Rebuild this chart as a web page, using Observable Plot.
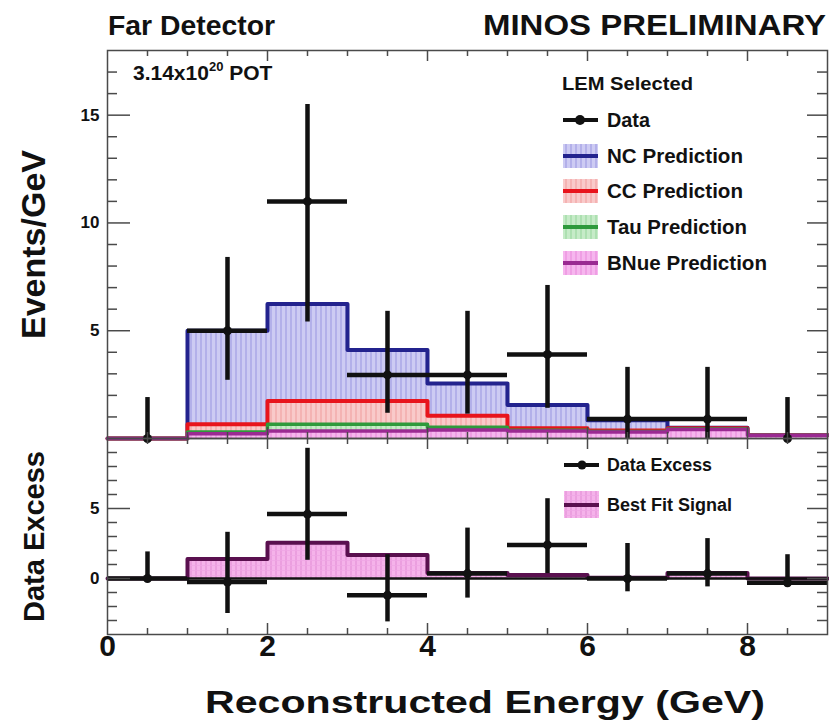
<!DOCTYPE html>
<html>
<head>
<meta charset="utf-8">
<script src="https://cdn.jsdelivr.net/npm/d3@7"></script>
<script src="https://cdn.jsdelivr.net/npm/@observablehq/plot@0.6"></script>
<style>
  body { margin: 0; background: #fff; }
  #chart { width: 829px; }
  #chart svg { display: block; overflow: visible; }
</style>
</head>
<body>
<div id="chart"></div>
<script>
// Reconstructed-energy binning (GeV), 1 GeV bins from 0 to 9
const binEdges = [0, 1, 2, 3, 4, 5, 6, 7, 8, 9];
const binCenters = [0.5, 1.5, 2.5, 3.5, 4.5, 5.5, 6.5, 7.5, 8.5];

// Predicted background components (events/GeV), stacked bottom to top
const bnuePred = [0, 0.22, 0.35, 0.35, 0.40, 0.35, 0.30, 0.42, 0.15];
const tauPred  = [0, 0.08, 0.31, 0.31, 0.12, 0.03, 0.02, 0.02, 0.00];
const ccPred   = [0, 0.36, 1.08, 1.08, 0.53, 0.10, 0.05, 0.03, 0.00];
const ncPred   = [0, 4.34, 4.50, 2.36, 1.50, 1.07, 0.48, 0.03, 0.00];

// Far detector data (events/GeV) with error-bar limits
const dataVal = [0, 5.0, 11.0, 2.95, 2.95, 3.9, 0.9, 0.9, 0];
const dataLo  = [0, 2.7, 5.4, 1.17, 1.13, 1.4, 0, 0, 0];
const dataHi  = [1.9, 8.4, 15.5, 5.9, 5.9, 7.1, 3.3, 3.3, 1.9];

// Data excess over background and best-fit signal
const excessVal = [0, -0.25, 4.6, -1.2, 0.35, 2.4, 0, 0.35, -0.3];
const excessLo  = [0, -2.5, 1.3, -3.1, -1.4, 0.35, -0.95, -0.6, -0.6];
const excessHi  = [1.9, 3.3, 9.3, 1.7, 3.6, 5.7, 2.5, 2.85, 1.7];
const signalFit = [0, 1.4, 2.55, 1.67, 0.4, 0.25, 0.05, 0.4, 0];

// Axis ticks
const xTickLabels = [0, 2, 4, 6, 8];
const upperYTickLabels = [5, 10, 15];
const lowerYTickLabels = [0, 5];

const W = 829;
const mL = 107, mR = 2;
const frameW = W - mL - mR;
const font = "'Liberation Sans', Arial, Helvetica, sans-serif";
const ink = "#111";
const frameInk = "#4a4a4a";

// cumulative stack tops
const cumBNue = bnuePred.slice();
const cumTau = cumBNue.map((v, i) => v + tauPred[i]);
const cumCC = cumTau.map((v, i) => v + ccPred[i]);
const cumNC = cumCC.map((v, i) => v + ncPred[i]);

const stepPoints = vals => binEdges.map((e, i) => ({x: e, y: vals[Math.min(i, vals.length - 1)]}));

const layers = [
  {cum: cumNC, fill: "url(#ncFill)", stroke: "#23238e", sw: 4},
  {cum: cumCC, fill: "url(#ccFill)", stroke: "#e8141c", sw: 4},
  {cum: cumTau, fill: "url(#tauFill)", stroke: "#2e9a3c", sw: 3.5},
  {cum: cumBNue, fill: "url(#bnueFill)", stroke: "#9a2a92", sw: 3.5}
];

const dataRows = binCenters.map((x, i) => ({x, x1: binEdges[i], x2: binEdges[i + 1], y: dataVal[i], lo: dataLo[i], hi: dataHi[i]}));
const excessRows = binCenters.map((x, i) => ({x, x1: binEdges[i], x2: binEdges[i + 1], y: excessVal[i], lo: excessLo[i], hi: excessHi[i]}));

// inward-pointing frame ticks on all four sides
function frameTicks(yMin, yMax, yMajor, frameH) {
  const xs = d3.range(0.5, 9, 0.5);
  const xMaj = xs.filter(v => v % 2 === 0);
  const xMin = xs.filter(v => v % 2 !== 0);
  const ys = d3.range(Math.ceil(yMin), Math.floor(yMax) + 1).filter(v => v > yMin && v < yMax);
  const yMaj = ys.filter(v => yMajor.includes(v));
  const yMin_ = ys.filter(v => !yMajor.includes(v));
  const s = {stroke: frameInk, strokeWidth: 1.5};
  return [
    Plot.tickY(yMin_, {y: d => d, insetRight: frameW - 10, ...s}),
    Plot.tickY(yMaj, {y: d => d, insetRight: frameW - 23, ...s}),
    Plot.tickY(yMin_, {y: d => d, insetLeft: frameW - 10, ...s}),
    Plot.tickY(yMaj, {y: d => d, insetLeft: frameW - 20, ...s}),
    Plot.tickX(xMin, {x: d => d, insetTop: frameH - 6, ...s}),
    Plot.tickX(xMaj, {x: d => d, insetTop: frameH - 11, ...s}),
    Plot.tickX(xMin, {x: d => d, insetBottom: frameH - 6, ...s}),
    Plot.tickX(xMaj, {x: d => d, insetBottom: frameH - 11, ...s})
  ];
}

const upperH = 438, upperTop = 50;
const upper = Plot.plot({
  width: W, height: upperH,
  marginTop: upperTop, marginBottom: 0, marginLeft: mL, marginRight: mR,
  x: {domain: [0, 9], axis: null},
  y: {domain: [0, 18], axis: null},
  style: {fontFamily: font, fontWeight: "bold", color: ink, background: "transparent"},
  marks: [
    ...layers.flatMap(l => [
      Plot.areaY(stepPoints(l.cum), {x: "x", y: "y", curve: "step-after", fill: l.fill}),
      Plot.line(stepPoints(l.cum), {x: "x", y: "y", curve: "step-after", stroke: l.stroke, strokeWidth: l.sw})
    ]),
    Plot.ruleX(dataRows, {x: "x", y1: "lo", y2: "hi", stroke: ink, strokeWidth: 4.5}),
    Plot.ruleY(dataRows.filter(d => d.y > 0), {y: "y", x1: "x1", x2: "x2", stroke: ink, strokeWidth: 4.5}),
    Plot.dot(dataRows, {x: "x", y: "y", r: 4.5, fill: ink}),
    Plot.frame({stroke: frameInk, strokeWidth: 1.5}),
    ...frameTicks(0, 18, upperYTickLabels, upperH - upperTop),
    Plot.text(upperYTickLabels, {y: d => d, text: d => String(d), frameAnchor: "left", textAnchor: "end", dx: -8, fontSize: 17, fill: ink}),
    Plot.text(["Events/GeV"], {frameAnchor: "left", textAnchor: "middle", dx: -73, rotate: -90, fontSize: 34, fill: ink})
  ]
});

const lowerH = 285, lowerBottom = 89;
const lower = Plot.plot({
  width: W, height: lowerH,
  marginTop: 0, marginBottom: lowerBottom, marginLeft: mL, marginRight: mR,
  x: {domain: [0, 9], axis: null},
  y: {domain: [-4, 10], axis: null},
  style: {fontFamily: font, fontWeight: "bold", color: ink, background: "transparent"},
  marks: [
    Plot.areaY(stepPoints(signalFit), {x: "x", y: "y", curve: "step-after", fill: "url(#sigFill)"}),
    Plot.line(stepPoints(signalFit), {x: "x", y: "y", curve: "step-after", stroke: "#5a104f", strokeWidth: 4}),
    Plot.ruleY([0], {stroke: ink, strokeWidth: 2.5}),
    Plot.ruleX(excessRows, {x: "x", y1: "lo", y2: "hi", stroke: ink, strokeWidth: 4.5}),
    Plot.ruleY(excessRows, {y: "y", x1: "x1", x2: "x2", stroke: ink, strokeWidth: 4.5}),
    Plot.dot(excessRows, {x: "x", y: "y", r: 4.5, fill: ink}),
    Plot.frame({stroke: frameInk, strokeWidth: 1.5}),
    ...frameTicks(-4, 10, lowerYTickLabels, lowerH - lowerBottom),
    Plot.text(lowerYTickLabels, {y: d => d, text: d => String(d), frameAnchor: "left", textAnchor: "end", dx: -8, fontSize: 17, fill: ink}),
    Plot.text(xTickLabels, {x: d => d, text: d => String(d), frameAnchor: "bottom", dy: 21, fontSize: 30, fill: ink}),
    Plot.text(["Data Excess"], {frameAnchor: "left", textAnchor: "middle", dx: -73, rotate: -90, fontSize: 29, fill: ink})
  ]
});

// hatched fill patterns for the stacked histograms
const patterns = `
  <pattern id="ncFill" width="5" height="8" patternUnits="userSpaceOnUse">
    <rect width="5" height="8" fill="#cdcbf3"/>
    <line x1="1" y1="0" x2="1" y2="8" stroke="#a8a5e6" stroke-width="1.4"/>
  </pattern>
  <pattern id="ccFill" width="5" height="8" patternUnits="userSpaceOnUse">
    <rect width="5" height="8" fill="#f9caca"/>
    <line x1="1" y1="0" x2="1" y2="8" stroke="#f3aaaa" stroke-width="1.4"/>
  </pattern>
  <pattern id="tauFill" width="5" height="8" patternUnits="userSpaceOnUse">
    <rect width="5" height="8" fill="#c6ebc8"/>
    <line x1="1" y1="0" x2="1" y2="8" stroke="#a3dca8" stroke-width="1.4"/>
  </pattern>
  <pattern id="bnueFill" width="5" height="8" patternUnits="userSpaceOnUse">
    <rect width="5" height="8" fill="#f6b6ee"/>
    <line x1="1" y1="0" x2="1" y2="8" stroke="#ec94e0" stroke-width="1.4"/>
  </pattern>
  <pattern id="sigFill" width="5" height="5" patternUnits="userSpaceOnUse">
    <rect width="5" height="5" fill="#f5b3ea"/>
    <line x1="1" y1="0" x2="1" y2="5" stroke="#e592d8" stroke-width="1.2"/>
    <line x1="0" y1="2.5" x2="5" y2="2.5" stroke="#efa6e4" stroke-width="0.8"/>
  </pattern>`;

const up = d3.select(upper);
up.insert("defs", ":first-child").html(patterns);

// bold text helper; len stretches the run to a set width
const txt = (g, x, y, s, size, len, anchor = "start") => {
  const t = g.append("text").attr("x", x).attr("y", y).attr("font-size", size)
    .attr("font-family", font).attr("font-weight", "bold").attr("fill", ink)
    .attr("text-anchor", anchor).text(s);
  if (len) t.attr("textLength", len).attr("lengthAdjust", "spacingAndGlyphs");
  return t;
};

txt(up, 108, 35, "Far Detector", 28, 167);
txt(up, 483, 35, "MINOS PRELIMINARY", 29, 343);
const pot = txt(up, 133, 80, "3.14x10", 21);
pot.append("tspan").attr("dy", -9).attr("font-size", 13).text("20");
pot.append("tspan").attr("dy", 9).text(" POT");

// upper legend
const leg = up.append("g");
txt(leg, 562, 90, "LEM Selected", 19, 131);
const legRows = [
  {label: "Data", y: 120, kind: "data", len: 43},
  {label: "NC Prediction", y: 156, fill: "url(#ncFill)", stroke: "#23238e", len: 136},
  {label: "CC Prediction", y: 191, fill: "url(#ccFill)", stroke: "#e8141c", len: 136},
  {label: "Tau Prediction", y: 227, fill: "url(#tauFill)", stroke: "#2e9a3c", len: 140},
  {label: "BNue Prediction", y: 263, fill: "url(#bnueFill)", stroke: "#9a2a92", len: 160}
];
for (const r of legRows) {
  if (r.kind === "data") {
    leg.append("line").attr("x1", 563).attr("x2", 598).attr("y1", r.y).attr("y2", r.y).attr("stroke", ink).attr("stroke-width", 4);
    leg.append("circle").attr("cx", 580).attr("cy", r.y).attr("r", 5).attr("fill", ink);
  } else {
    leg.append("rect").attr("x", 563).attr("y", r.y - 12).attr("width", 35).attr("height", 24).attr("fill", r.fill);
    leg.append("line").attr("x1", 563).attr("x2", 598).attr("y1", r.y).attr("y2", r.y).attr("stroke", r.stroke).attr("stroke-width", 4);
  }
  txt(leg, 607, r.y + 7, r.label, 19.5, r.len);
}

// lower legend and axis title
const lo = d3.select(lower);
const lleg = lo.append("g");
lleg.append("line").attr("x1", 564).attr("x2", 599).attr("y1", 27).attr("y2", 27).attr("stroke", ink).attr("stroke-width", 4);
lleg.append("circle").attr("cx", 582).attr("cy", 27).attr("r", 4.5).attr("fill", ink);
txt(lleg, 607, 33, "Data Excess", 17.5, 105);
lleg.append("rect").attr("x", 564).attr("y", 53).attr("width", 35).attr("height", 27).attr("fill", "url(#sigFill)");
lleg.append("line").attr("x1", 564).attr("x2", 599).attr("y1", 67).attr("y2", 67).attr("stroke", "#5a104f").attr("stroke-width", 4);
txt(lleg, 607, 73, "Best Fit Signal", 17.5, 125);

txt(lo, 205, 275, "Reconstructed Energy (GeV)", 32, 560);

const chart = document.getElementById("chart");
chart.append(upper, lower);
</script>
</body>
</html>
